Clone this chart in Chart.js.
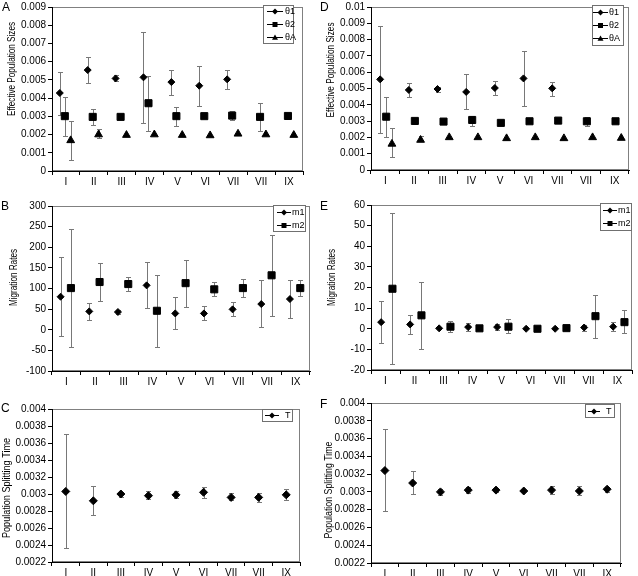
<!DOCTYPE html>
<html>
<head>
<meta charset="utf-8">
<script src="https://cdn.jsdelivr.net/npm/chart.js@4.4.1/dist/chart.umd.min.js"></script>
<style>
  body { margin: 0; background: #fff; width: 638px; height: 576px; overflow: hidden; position: relative; }
  canvas { position: absolute; }
</style>
</head>
<body>
<canvas id="panelA"></canvas>
<canvas id="panelB"></canvas>
<canvas id="panelC"></canvas>
<canvas id="panelD"></canvas>
<canvas id="panelE"></canvas>
<canvas id="panelF"></canvas>
<script>
const categories = ['I', 'II', 'III', 'IV', 'V', 'VI', 'VII', 'VII', 'IX'];

// tick labels
const sizeTicksA = [0, 0.001, 0.002, 0.003, 0.004, 0.005, 0.006, 0.007, 0.008, 0.009];
const sizeTicksD = [0, 0.001, 0.002, 0.003, 0.004, 0.005, 0.006, 0.007, 0.008, 0.009, 0.01];
const migTicksB = [-100, -50, 0, 50, 100, 150, 200, 250, 300];
const migTicksE = [-20, -10, 0, 10, 20, 30, 40, 50, 60];
const timeTicks = [0.0022, 0.0024, 0.0026, 0.0028, 0.003, 0.0032, 0.0034, 0.0036, 0.0038, 0.004];

// A: effective population sizes
const aTheta1 = [0.00428, 0.00554, 0.00508, 0.00514, 0.00488, 0.00468, 0.00503, null, null];
const aTheta1Hi = [0.00546, 0.00628, 0.00525, 0.00763, 0.00557, 0.00576, 0.00556, null, null];
const aTheta1Lo = [0.00310, 0.00484, 0.00492, 0.00266, 0.00417, 0.00357, 0.00450, null, null];
const aTheta2 = [0.00301, 0.00297, 0.00297, 0.00372, 0.00301, 0.00301, 0.00304, 0.00297, 0.00302];
const aTheta2Hi = [0.00404, 0.00341, 0.00308, 0.00519, 0.00350, 0.00311, 0.00330, 0.00373, 0.00313];
const aTheta2Lo = [0.00193, 0.00253, 0.00284, 0.00220, 0.00248, 0.00290, 0.00281, 0.00222, 0.00291];
const aThetaA = [0.00168, 0.00200, 0.00197, 0.00200, 0.00197, 0.00195, 0.00204, 0.00200, 0.00197];
const aThetaAHi = [0.00277, 0.00231, null, null, null, null, null, null, null];
const aThetaALo = [0.00062, 0.00182, null, null, null, null, null, null, null];

// D: effective population sizes
const dTheta1 = [0.00556, 0.00491, 0.00497, 0.00479, 0.00503, 0.00562, 0.00501, null, null];
const dTheta1Hi = [0.00883, 0.00531, 0.00511, 0.00588, 0.00549, 0.00731, 0.00541, null, null];
const dTheta1Lo = [0.00228, 0.00446, 0.00479, 0.00374, 0.00459, 0.00390, 0.00453, null, null];
const dTheta2 = [0.00327, 0.00301, 0.00297, 0.00307, 0.00289, 0.00299, 0.00303, 0.00299, 0.00299];
const dTheta2Hi = [0.00446, 0.00313, null, 0.00331, null, null, null, 0.00325, null];
const dTheta2Lo = [0.00200, 0.00283, null, 0.00271, null, null, null, 0.00273, null];
const dThetaA = [0.00160, 0.00184, 0.00200, 0.00200, 0.00194, 0.00200, 0.00194, 0.00200, 0.00196];
const dThetaAHi = [0.00255, 0.00208, null, null, null, null, null, null, null];
const dThetaALo = [0.00079, 0.00180, null, null, null, null, null, null, null];

// B: migration rates
const bM1 = [80, 44.5, 43, 107.6, 39.6, 39.6, 49.4, 62.3, 74.4];
const bM1Hi = [176, 64, 48.5, 165, 80, 56.6, 66.3, 119.7, 120.5];
const bM1Lo = [-15, 22.7, 37, 51.8, 0.8, 24.3, 33.2, 5.7, 27.5];
const bM2 = [101, 115.7, 110.8, 46, 113, 98, 101, 132, 101];
const bM2Hi = [243.5, 161.8, 127, 132, 170, 116.5, 122, 230, 120];
const bM2Lo = [-42, 68.8, 94.7, -42, 54, 81, 78.5, 34, 81];

// E: migration rates
const eM1 = [3.2, 2.1, 0.2, 0.8, 0.8, 0, 0, 0.6, 1.0];
const eM1Hi = [13.4, 6.8, null, 2.6, 2.1, null, null, 1.9, 3.4];
const eM1Lo = [-6.8, -2.7, null, -1.1, -0.6, null, null, -1.1, -1.1];
const eM2 = [19.4, 6.5, 1.0, 0.2, 1.0, 0, 0.3, 6.1, 3.2];
const eM2Hi = [55.9, 22.6, 3.6, null, 4.5, null, null, 16.5, 8.9];
const eM2Lo = [-17.1, -10, -1.8, null, -2.1, null, null, -4.4, -2.1];

// C and F: population splitting time
const cT = [0.00303, 0.00292, 0.00300, 0.00298, 0.00299, 0.00302, 0.00296, 0.00296, 0.00299];
const cTHi = [0.00370, 0.00310, 0.00302, 0.00304, 0.00303, 0.00308, 0.00301, 0.00301, 0.00306];
const cTLo = [0.00236, 0.00275, 0.00297, 0.00294, 0.00295, 0.00295, 0.00293, 0.00291, 0.00293];
const fT = [0.00324, 0.00310, 0.00300, 0.00302, 0.00302, 0.00301, 0.00302, 0.00301, 0.00303];
const fTHi = [0.00371, 0.00323, 0.00303, 0.00306, 0.00304, null, 0.00307, 0.00307, 0.00306];
const fTLo = [0.00278, 0.00298, 0.00297, 0.00299, 0.00300, null, 0.00298, 0.00296, 0.00300];

const FONT = '"Liberation Sans", Arial, sans-serif';

function marker(ctx, style, x, y, r) {
    ctx.beginPath();
    if (style === 'rectRot') {
        ctx.moveTo(x, y - r); ctx.lineTo(x + r, y); ctx.lineTo(x, y + r); ctx.lineTo(x - r, y);
    } else if (style === 'rect') {
        ctx.rect(x - r, y - r, 2 * r, 2 * r);
    } else {
        ctx.moveTo(x, y - r); ctx.lineTo(x + r, y + r * 0.75); ctx.lineTo(x - r, y + r * 0.75);
    }
    ctx.closePath();
    ctx.fill();
}

function makePanel(id, box, area, yTicks, series, text, legend) {
    const canvas = document.getElementById(id);
    canvas.width = box.w;
    canvas.height = box.h;
    canvas.style.left = box.x + 'px';
    canvas.style.top = box.y + 'px';
    const yW = area.l - box.x;
    const xH = box.y + box.h - area.b;

    // plot frame (top and right sides, grey)
    const frame = {
        id: 'frame',
        beforeDraw(chart) {
            const a = chart.chartArea, ctx = chart.ctx;
            ctx.save();
            ctx.strokeStyle = '#808080';
            ctx.lineWidth = 1;
            ctx.strokeRect(Math.round(a.left) + 0.5, Math.round(a.top) + 0.5,
                Math.round(a.right - a.left) - 1, Math.round(a.bottom - a.top) - 1);
            ctx.restore();
        }
    };

    const errorBars = {
        id: 'errorBars',
        beforeDatasetsDraw(chart) {
            const ctx = chart.ctx, ys = chart.scales.y;
            ctx.save();
            ctx.strokeStyle = '#787878';
            ctx.lineWidth = 1;
            chart.data.datasets.forEach((ds, di) => {
                const meta = chart.getDatasetMeta(di);
                ds.data.forEach((p, i) => {
                    if (p.lo == null || p.hi == null) return;
                    const px = Math.round(meta.data[i].x) + 0.5;
                    const y0 = Math.round(ys.getPixelForValue(p.lo)) + 0.5;
                    const y1 = Math.round(ys.getPixelForValue(p.hi)) + 0.5;
                    ctx.beginPath();
                    ctx.moveTo(px, y0); ctx.lineTo(px, y1);
                    ctx.moveTo(px - 2.5, y0); ctx.lineTo(px + 2.5, y0);
                    ctx.moveTo(px - 2.5, y1); ctx.lineTo(px + 2.5, y1);
                    ctx.stroke();
                });
            });
            ctx.restore();
        }
    };

    const extras = {
        id: 'extras',
        afterDraw(chart) {
            const ctx = chart.ctx;
            ctx.save();
            // panel letter
            ctx.fillStyle = '#000';
            ctx.font = '12px ' + FONT;
            ctx.textAlign = 'left';
            ctx.textBaseline = 'alphabetic';
            ctx.fillText(text.letter, text.lx, text.ly);
            // y axis title
            ctx.save();
            ctx.translate(text.tx, text.ty);
            ctx.rotate(-Math.PI / 2);
            ctx.font = '11px ' + FONT;
            ctx.textAlign = 'center';
            ctx.textBaseline = 'middle';
            ctx.fillText(text.title, 0, 0, text.tmax);
            ctx.restore();
            // boxed legend
            ctx.fillStyle = '#fff';
            ctx.fillRect(legend.x, legend.y, legend.w, legend.h);
            ctx.strokeStyle = '#707070';
            ctx.lineWidth = 1;
            ctx.strokeRect(legend.x + 0.5, legend.y + 0.5, legend.w, legend.h);
            const n = chart.data.datasets.length;
            ctx.font = '9px ' + FONT;
            ctx.textAlign = 'left';
            ctx.textBaseline = 'middle';
            chart.data.datasets.forEach((ds, i) => {
                const cy = Math.round(legend.y + legend.h * (i + 0.5) / n) + 0.5;
                ctx.strokeStyle = '#000';
                ctx.beginPath();
                ctx.moveTo(legend.l0, cy); ctx.lineTo(legend.l1, cy);
                ctx.stroke();
                ctx.fillStyle = '#000';
                const r = ds.pointStyle === 'rect' ? 2.5 : 3;
                marker(ctx, ds.pointStyle, (legend.l0 + legend.l1) / 2, cy, r);
                ctx.fillText(ds.label, legend.tx, cy);
            });
            ctx.restore();
        }
    };

    return new Chart(canvas, {
        type: 'scatter',
        data: {
            datasets: series.map(s => ({
                label: s.label,
                data: s.values
                    .map((v, i) => ({ x: i + 1 + s.offset, y: v, lo: s.lo[i], hi: s.hi[i] }))
                    .filter(p => p.y !== null),
                pointStyle: s.style,
                pointRadius: s.radius,
                backgroundColor: '#000',
                borderColor: '#000',
                borderWidth: 1,
                showLine: false
            }))
        },
        options: {
            responsive: false,
            animation: false,
            events: [],
            layout: { padding: { left: 0, top: area.t - box.y, right: box.x + box.w - area.r, bottom: 0 } },
            plugins: { legend: { display: false }, tooltip: { enabled: false } },
            scales: {
                x: {
                    type: 'linear',
                    min: 0.5,
                    max: 9.5,
                    afterBuildTicks: s => { s.ticks = categories.map((c, i) => ({ value: i + 1 })); },
                    afterFit: s => { s.height = xH; },
                    ticks: {
                        font: { family: FONT, size: 10, lineHeight: 1 },
                        color: '#000',
                        padding: 2,
                        autoSkip: false,
                        maxRotation: 0,
                        callback: (v, i) => categories[i]
                    },
                    grid: { offset: true, drawOnChartArea: false, tickLength: 4, color: '#000' },
                    border: { color: '#000' }
                },
                y: {
                    min: yTicks[0],
                    max: yTicks[yTicks.length - 1],
                    afterBuildTicks: s => { s.ticks = yTicks.map(v => ({ value: v })); },
                    afterFit: s => { s.width = yW; },
                    ticks: {
                        font: { family: FONT, size: 10, lineHeight: 1 },
                        color: '#000',
                        padding: 2,
                        callback: v => String(v)
                    },
                    grid: { drawOnChartArea: false, tickLength: 4, color: '#000' },
                    border: { color: '#000' }
                }
            }
        },
        plugins: [frame, errorBars, extras]
    });
}

makePanel('panelA', { x: 0, y: 0, w: 318, h: 186 }, { l: 52, t: 6, r: 303, b: 171 }, sizeTicksA, [
    { label: '\u03b81', values: aTheta1, lo: aTheta1Lo, hi: aTheta1Hi, offset: -0.22, style: 'rectRot', radius: 3.5 },
    { label: '\u03b82', values: aTheta2, lo: aTheta2Lo, hi: aTheta2Hi, offset: -0.04, style: 'rect', radius: 5 },
    { label: '\u03b8A', values: aThetaA, lo: aThetaALo, hi: aThetaAHi, offset: 0.17, style: 'triangle', radius: 4.5 }
], { letter: 'A', lx: 2, ly: 11, title: 'Effective Population Sizes', tx: 12, ty: 69, tmax: 94 },
   { x: 263, y: 5, w: 30, h: 38, l0: 267, l1: 283, tx: 285 });

makePanel('panelB', { x: 0, y: 188, w: 318, h: 198 }, { l: 52, t: 206, r: 310, b: 371 }, migTicksB, [
    { label: 'm1', values: bM1, lo: bM1Lo, hi: bM1Hi, offset: -0.2, style: 'rectRot', radius: 3.5 },
    { label: 'm2', values: bM2, lo: bM2Lo, hi: bM2Hi, offset: 0.16, style: 'rect', radius: 5 }
], { letter: 'B', lx: 1, ly: 22, title: 'Migration Rates', tx: 14, ty: 89.5, tmax: 57 },
   { x: 273, y: 17, w: 32, h: 26, l0: 277, l1: 291, tx: 292 });

makePanel('panelC', { x: 0, y: 390, w: 318, h: 186 }, { l: 52, t: 409, r: 300, b: 562 }, timeTicks, [
    { label: 'T', values: cT, lo: cTLo, hi: cTHi, offset: 0, style: 'rectRot', radius: 4 }
], { letter: 'C', lx: 1, ly: 22, title: 'Population Splitting Time', tx: 7, ty: 98, tmax: 100 },
   { x: 262, y: 19, w: 30, h: 12, l0: 265, l1: 279, tx: 285 });

makePanel('panelD', { x: 318, y: 0, w: 320, h: 185 }, { l: 371, t: 5, r: 629, b: 170 }, sizeTicksD, [
    { label: '\u03b81', values: dTheta1, lo: dTheta1Lo, hi: dTheta1Hi, offset: -0.18, style: 'rectRot', radius: 3.5 },
    { label: '\u03b82', values: dTheta2, lo: dTheta2Lo, hi: dTheta2Hi, offset: 0.03, style: 'rect', radius: 5 },
    { label: '\u03b8A', values: dThetaA, lo: dThetaALo, hi: dThetaAHi, offset: 0.23, style: 'triangle', radius: 4.5 }
], { letter: 'D', lx: 2, ly: 11, title: 'Effective Population Sizes', tx: 13, ty: 70, tmax: 95 },
   { x: 274, y: 5, w: 31, h: 40, l0: 275, l1: 290, tx: 291 });

makePanel('panelE', { x: 318, y: 188, w: 320, h: 197 }, { l: 371, t: 205, r: 634, b: 370 }, migTicksE, [
    { label: 'm1', values: eM1, lo: eM1Lo, hi: eM1Hi, offset: -0.15, style: 'rectRot', radius: 3.5 },
    { label: 'm2', values: eM2, lo: eM2Lo, hi: eM2Hi, offset: 0.24, style: 'rect', radius: 5 }
], { letter: 'E', lx: 2, ly: 22, title: 'Migration Rates', tx: 14, ty: 89.5, tmax: 57 },
   { x: 282, y: 15, w: 31, h: 27, l0: 285, l1: 299, tx: 300 });

makePanel('panelF', { x: 318, y: 390, w: 320, h: 186 }, { l: 371, t: 403, r: 621, b: 563 }, timeTicks, [
    { label: 'T', values: fT, lo: fTLo, hi: fTHi, offset: 0, style: 'rectRot', radius: 4 }
], { letter: 'F', lx: 2, ly: 18, title: 'Population Splitting Time', tx: 11, ty: 100, tmax: 97 },
   { x: 267, y: 14, w: 29, h: 13, l0: 270, l1: 282, tx: 288 });
</script>
</body>
</html>
